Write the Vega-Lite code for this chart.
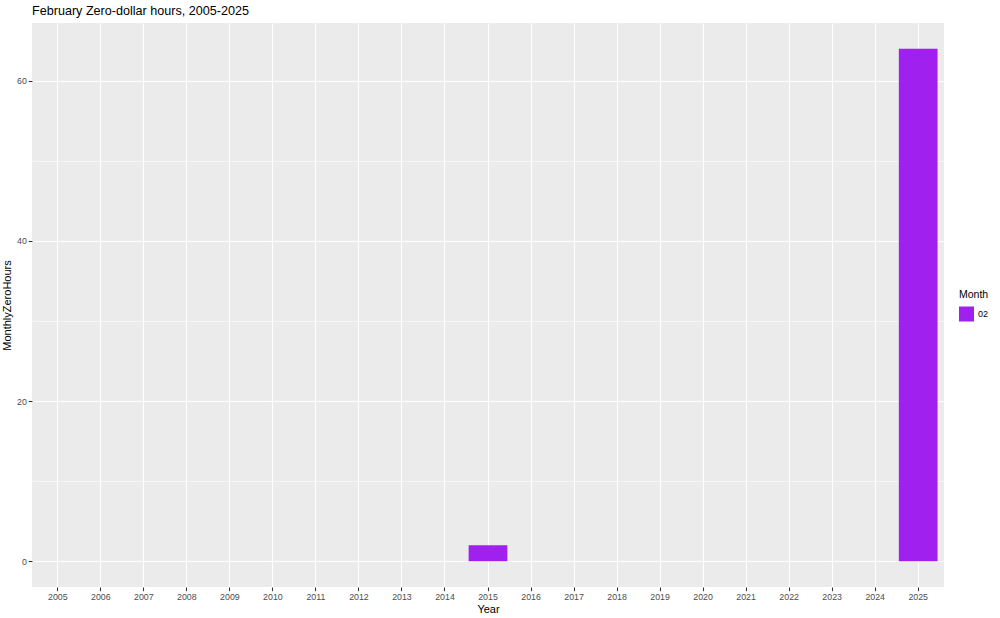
{
  "$schema": "https://vega.github.io/schema/vega-lite/v6.json",
  "width": 912,
  "height": 564,
  "autosize": {"type": "none"},
  "padding": {"left": 32, "top": 23, "right": 56, "bottom": 31},
  "background": "white",
  "config": {
    "font": "Liberation Sans",
    "view": {"fill": "#EBEBEB", "stroke": null},
    "axis": {
      "domain": false,
      "grid": true,
      "gridColor": "white",
      "gridWidth": 1.1,
      "gridOpacity": 1,
      "tickColor": "#333333",
      "tickSize": 3.7,
      "tickWidth": 1.1,
      "labelColor": "#4D4D4D",
      "labelFontSize": 8.8,
      "labelFont": "Liberation Sans",
      "labelPadding": 2,
      "titleFont": "Liberation Sans",
      "titleFontSize": 11,
      "titleFontWeight": "normal",
      "titleColor": "black"
    }
  },
  "title": {
    "text": "February Zero-dollar hours, 2005-2025",
    "anchor": "start",
    "frame": "group",
    "font": "Liberation Sans",
    "fontSize": 12.6,
    "fontWeight": "normal",
    "color": "black",
    "baseline": "bottom",
    "offset": -8
  },
  "data": {
    "values": [
      {"Year": "2005", "Month": "02", "MonthlyZeroHours": 0},
      {"Year": "2006", "Month": "02", "MonthlyZeroHours": 0},
      {"Year": "2007", "Month": "02", "MonthlyZeroHours": 0},
      {"Year": "2008", "Month": "02", "MonthlyZeroHours": 0},
      {"Year": "2009", "Month": "02", "MonthlyZeroHours": 0},
      {"Year": "2010", "Month": "02", "MonthlyZeroHours": 0},
      {"Year": "2011", "Month": "02", "MonthlyZeroHours": 0},
      {"Year": "2012", "Month": "02", "MonthlyZeroHours": 0},
      {"Year": "2013", "Month": "02", "MonthlyZeroHours": 0},
      {"Year": "2014", "Month": "02", "MonthlyZeroHours": 0},
      {"Year": "2015", "Month": "02", "MonthlyZeroHours": 2},
      {"Year": "2016", "Month": "02", "MonthlyZeroHours": 0},
      {"Year": "2017", "Month": "02", "MonthlyZeroHours": 0},
      {"Year": "2018", "Month": "02", "MonthlyZeroHours": 0},
      {"Year": "2019", "Month": "02", "MonthlyZeroHours": 0},
      {"Year": "2020", "Month": "02", "MonthlyZeroHours": 0},
      {"Year": "2021", "Month": "02", "MonthlyZeroHours": 0},
      {"Year": "2022", "Month": "02", "MonthlyZeroHours": 0},
      {"Year": "2023", "Month": "02", "MonthlyZeroHours": 0},
      {"Year": "2024", "Month": "02", "MonthlyZeroHours": 0},
      {"Year": "2025", "Month": "02", "MonthlyZeroHours": 64}
    ]
  },
  "encoding": {
    "x": {
      "field": "Year",
      "type": "ordinal",
      "scale": {"paddingInner": 0.1, "paddingOuter": 0.15},
      "axis": {"labelAngle": 0, "bandPosition": 0.5, "grid": true, "title": "Year", "titlePadding": 2}
    }
  },
  "layer": [
    {
      "mark": {"type": "bar", "opacity": 0},
      "encoding": {
        "y": {
          "field": "MonthlyZeroHours",
          "type": "quantitative",
          "scale": {"domain": [-3.2, 67.2], "nice": false, "zero": false},
          "axis": {
            "orient": "left",
            "values": [10, 30, 50],
            "labels": false,
            "ticks": false,
            "title": null,
            "grid": true,
            "gridWidth": 0.55
          }
        }
      }
    },
    {
      "mark": {"type": "bar"},
      "encoding": {
        "y": {
          "field": "MonthlyZeroHours",
          "type": "quantitative",
          "scale": {"domain": [-3.2, 67.2], "nice": false, "zero": false},
          "axis": {
            "orient": "left",
            "values": [0, 20, 40, 60],
            "grid": true,
            "title": "MonthlyZeroHours",
            "titlePadding": 4
          }
        },
        "color": {
          "field": "Month",
          "type": "nominal",
          "scale": {"range": ["#A020F0"]},
          "legend": {
            "orient": "none",
            "legendX": 927,
            "legendY": 267,
            "title": "Month",
            "titleFontSize": 10.5,
            "titleFontWeight": "normal",
            "titleColor": "black",
            "titlePadding": 6,
            "labelFontSize": 9,
            "labelColor": "black",
            "symbolType": "square",
            "symbolSize": 225,
            "symbolStrokeWidth": 0,
            "symbolOpacity": 1
          }
        }
      }
    }
  ],
  "resolve": {"axis": {"y": "independent"}}
}
